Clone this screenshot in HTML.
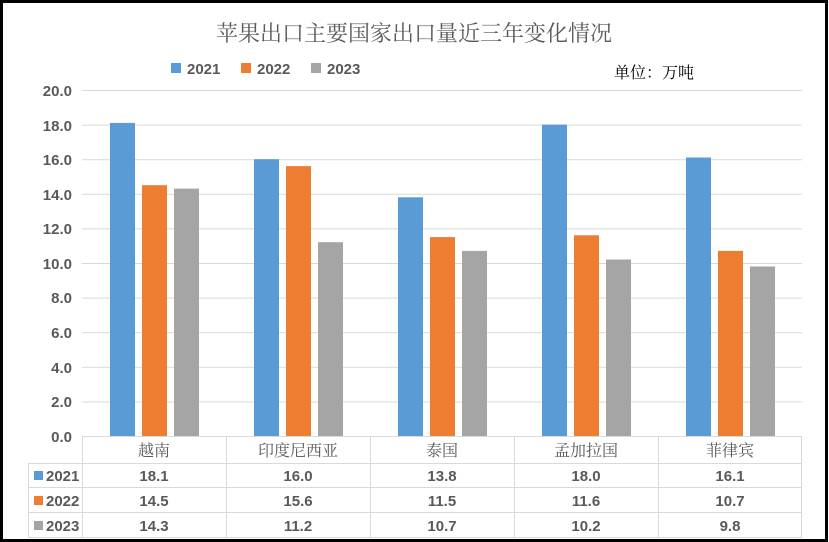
<!DOCTYPE html>
<html><head><meta charset="utf-8"><style>
html,body{margin:0;padding:0;background:#fff}
svg{display:block}
text{font-family:"Liberation Sans","Noto Sans CJK SC",sans-serif}
.s{font-family:"Liberation Serif","Noto Serif CJK SC",serif}
</style></head><body>
<svg width="829" height="542" viewBox="0 0 829 542" xmlns="http://www.w3.org/2000/svg">
<rect x="0" y="0" width="829" height="542" fill="#fff"/>
<rect x="1.5" y="1.5" width="825" height="539" fill="none" stroke="#000" stroke-width="3"/>
<text class="s" x="414" y="41" text-anchor="middle" font-size="22" fill="#595959">苹果出口主要国家出口量近三年变化情况</text>
<rect x="171" y="63" width="10" height="10" fill="#5b9bd5"/><text x="187" y="74" font-size="15" font-weight="bold" fill="#595959">2021</text>
<rect x="241" y="63" width="10" height="10" fill="#ed7d31"/><text x="257" y="74" font-size="15" font-weight="bold" fill="#595959">2022</text>
<rect x="311" y="63" width="10" height="10" fill="#a5a5a5"/><text x="327" y="74" font-size="15" font-weight="bold" fill="#595959">2023</text>
<text class="s" x="614" y="78" font-size="16" fill="#000">单位：万吨</text>
<g stroke="#d9d9d9" stroke-width="1">
<line x1="82" y1="90.5" x2="802" y2="90.5"/><line x1="82" y1="125.1" x2="802" y2="125.1"/><line x1="82" y1="159.7" x2="802" y2="159.7"/><line x1="82" y1="194.3" x2="802" y2="194.3"/><line x1="82" y1="228.9" x2="802" y2="228.9"/><line x1="82" y1="263.5" x2="802" y2="263.5"/><line x1="82" y1="298.1" x2="802" y2="298.1"/><line x1="82" y1="332.7" x2="802" y2="332.7"/><line x1="82" y1="367.3" x2="802" y2="367.3"/><line x1="82" y1="401.9" x2="802" y2="401.9"/>
</g>
<g font-size="15" font-weight="bold" fill="#595959" text-anchor="end">
<text x="72" y="96">20.0</text><text x="72" y="131">18.0</text><text x="72" y="165">16.0</text><text x="72" y="200">14.0</text><text x="72" y="234">12.0</text><text x="72" y="269">10.0</text><text x="72" y="303">8.0</text><text x="72" y="338">6.0</text><text x="72" y="373">4.0</text><text x="72" y="407">2.0</text><text x="72" y="442">0.0</text>
</g>
<g>
<rect x="110" y="122.9" width="25" height="313.1" fill="#5b9bd5"/><rect x="142" y="185.2" width="25" height="250.8" fill="#ed7d31"/><rect x="174" y="188.6" width="25" height="247.4" fill="#a5a5a5"/>
<rect x="254" y="159.2" width="25" height="276.8" fill="#5b9bd5"/><rect x="286" y="166.1" width="25" height="269.9" fill="#ed7d31"/><rect x="318" y="242.2" width="25" height="193.8" fill="#a5a5a5"/>
<rect x="398" y="197.3" width="25" height="238.7" fill="#5b9bd5"/><rect x="430" y="237.1" width="25" height="198.9" fill="#ed7d31"/><rect x="462" y="250.9" width="25" height="185.1" fill="#a5a5a5"/>
<rect x="542" y="124.6" width="25" height="311.4" fill="#5b9bd5"/><rect x="574" y="235.3" width="25" height="200.7" fill="#ed7d31"/><rect x="606" y="259.5" width="25" height="176.5" fill="#a5a5a5"/>
<rect x="686" y="157.5" width="25" height="278.5" fill="#5b9bd5"/><rect x="718" y="250.9" width="25" height="185.1" fill="#ed7d31"/><rect x="750" y="266.5" width="25" height="169.5" fill="#a5a5a5"/>
</g>
<g stroke="#d9d9d9" stroke-width="1" fill="none">
<line x1="82" y1="436.5" x2="802" y2="436.5"/>
<line x1="28" y1="463.5" x2="802" y2="463.5"/>
<line x1="28" y1="487.5" x2="802" y2="487.5"/>
<line x1="28" y1="512.5" x2="802" y2="512.5"/>
<line x1="28" y1="537.5" x2="802" y2="537.5"/>
<line x1="28.5" y1="463" x2="28.5" y2="538"/>
<line x1="82.5" y1="436" x2="82.5" y2="538"/>
<line x1="226.5" y1="436" x2="226.5" y2="538"/>
<line x1="370.5" y1="436" x2="370.5" y2="538"/>
<line x1="514.5" y1="436" x2="514.5" y2="538"/>
<line x1="658.5" y1="436" x2="658.5" y2="538"/>
<line x1="801.5" y1="436" x2="801.5" y2="538"/>
</g>
<g class="s" font-size="16" fill="#595959" text-anchor="middle">
<text class="s" x="154" y="456">越南</text><text class="s" x="298" y="456">印度尼西亚</text><text class="s" x="442" y="456">泰国</text><text class="s" x="586" y="456">孟加拉国</text><text class="s" x="730" y="456">菲律宾</text>
</g>
<rect x="34" y="471" width="9" height="9" fill="#5b9bd5"/><text x="46" y="481" font-size="15" font-weight="bold" fill="#595959">2021</text>
<rect x="34" y="496" width="9" height="9" fill="#ed7d31"/><text x="46" y="506" font-size="15" font-weight="bold" fill="#595959">2022</text>
<rect x="34" y="521" width="9" height="9" fill="#a5a5a5"/><text x="46" y="531" font-size="15" font-weight="bold" fill="#595959">2023</text>
<g font-size="15" font-weight="bold" fill="#595959" text-anchor="middle">
<text x="154" y="481">18.1</text><text x="298" y="481">16.0</text><text x="442" y="481">13.8</text><text x="586" y="481">18.0</text><text x="730" y="481">16.1</text>
<text x="154" y="506">14.5</text><text x="298" y="506">15.6</text><text x="442" y="506">11.5</text><text x="586" y="506">11.6</text><text x="730" y="506">10.7</text>
<text x="154" y="531">14.3</text><text x="298" y="531">11.2</text><text x="442" y="531">10.7</text><text x="586" y="531">10.2</text><text x="730" y="531">9.8</text>
</g>
</svg>
</body></html>
